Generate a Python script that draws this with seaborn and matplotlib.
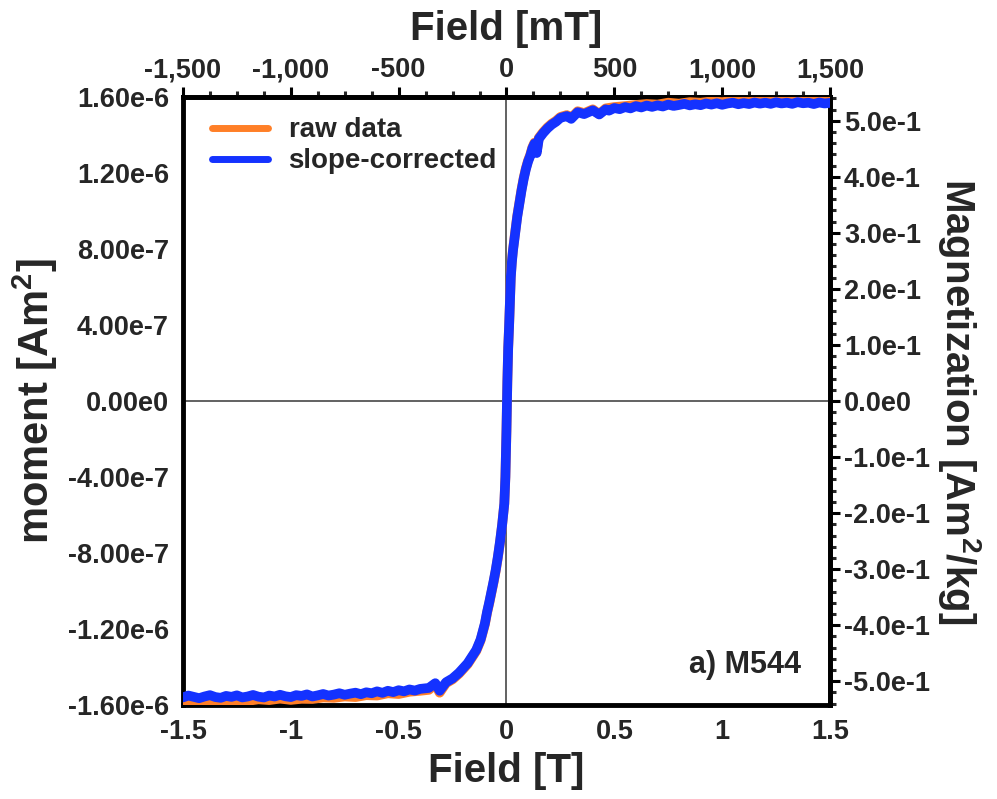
import numpy as np
import pandas as pd
import matplotlib
matplotlib.use("Agg")
import matplotlib.pyplot as plt
import seaborn as sns
from matplotlib.ticker import MultipleLocator, FixedLocator, FixedFormatter

# Slope-corrected branch: applied field (T) and moment (units of 1e-7 Am^2)
corrected_field_T = [
    -1.500, -1.475, -1.450, -1.425, -1.400, -1.375, -1.350, -1.325, -1.300, -1.275,
    -1.250, -1.225, -1.200, -1.175, -1.150, -1.125, -1.100, -1.075, -1.050, -1.025,
    -1.000, -0.975, -0.950, -0.925, -0.900, -0.875, -0.850, -0.825, -0.800, -0.775,
    -0.750, -0.725, -0.700, -0.675, -0.650, -0.625, -0.600, -0.575, -0.550, -0.525,
    -0.500, -0.475, -0.450, -0.425, -0.400,
    -0.36, -0.33, -0.31, -0.28, -0.25, -0.22, -0.20, -0.18, -0.16, -0.14,
    -0.12, -0.10, -0.09, -0.08, -0.07, -0.06, -0.05, -0.04, -0.03, -0.02,
    -0.01, -0.005, 0.0, 0.004, 0.008, 0.012, 0.016, 0.02, 0.025, 0.03,
    0.04, 0.05, 0.06, 0.07, 0.08, 0.09, 0.10, 0.11, 0.12, 0.13,
    0.14, 0.15, 0.17, 0.19, 0.21, 0.23, 0.25, 0.28, 0.30, 0.33,
    0.36, 0.40, 0.43, 0.46,
    0.475, 0.500, 0.525, 0.550, 0.575, 0.600, 0.625, 0.650, 0.675, 0.700,
    0.725, 0.750, 0.775, 0.800, 0.825, 0.850, 0.875, 0.900, 0.925, 0.950,
    0.975, 1.000, 1.025, 1.050, 1.075, 1.100, 1.125, 1.150, 1.175, 1.200,
    1.225, 1.250, 1.275, 1.300, 1.325, 1.350, 1.375, 1.400, 1.425, 1.450,
    1.475, 1.500,
]
corrected_moment_e7 = [
    -15.60, -15.50, -15.57, -15.64, -15.55, -15.48, -15.58, -15.62, -15.52, -15.57,
    -15.49, -15.60, -15.55, -15.47, -15.56, -15.60, -15.50, -15.55, -15.46, -15.54,
    -15.58, -15.48, -15.52, -15.44, -15.55, -15.49, -15.42, -15.50, -15.45, -15.38,
    -15.46, -15.40, -15.35, -15.43, -15.33, -15.38, -15.28, -15.36, -15.25, -15.32,
    -15.22, -15.28, -15.18, -15.24, -15.15,
    -15.10, -14.85, -15.25, -14.80, -14.60, -14.30, -14.05, -13.80, -13.45, -13.10,
    -12.55, -11.70, -11.10, -10.60, -10.05, -9.50, -8.90, -8.20, -7.40, -6.50,
    -5.40, -4.00, -1.50, 1.00, 2.80, 3.90, 5.20, 6.50, 7.30, 7.90,
    8.80, 9.70, 10.40, 11.10, 11.70, 12.20, 12.60, 12.90, 13.30, 13.55,
    13.05, 13.80, 14.10, 14.35, 14.55, 14.70, 14.90, 15.00, 14.85, 15.20,
    15.10, 15.30, 15.08, 15.35,
    15.28, 15.42, 15.36, 15.47, 15.40, 15.52, 15.45, 15.55, 15.48, 15.56,
    15.50, 15.60, 15.53, 15.58, 15.64, 15.56, 15.62, 15.57, 15.66, 15.60,
    15.67, 15.59, 15.66, 15.70, 15.62, 15.68, 15.63, 15.71, 15.65, 15.70,
    15.64, 15.72, 15.66, 15.70, 15.64, 15.73, 15.67, 15.70, 15.63, 15.71,
    15.66, 15.69,
]

# Raw branch before paramagnetic slope removal: field (T), moment (1e-7 Am^2)
raw_field_T = [
    -1.50, -1.45, -1.40, -1.35, -1.30, -1.25, -1.20, -1.15, -1.10, -1.05,
    -1.00, -0.95, -0.90, -0.85, -0.80, -0.75, -0.70, -0.65, -0.60, -0.55,
    -0.50, -0.45, -0.40, -0.36, -0.33, -0.31, -0.28, -0.25, -0.22, -0.20,
    -0.18, -0.16, -0.14, -0.12, -0.10, -0.09, -0.08, -0.07, -0.06, -0.05,
    -0.04, -0.03, -0.02, -0.01, -0.005, 0.0, 0.004, 0.008, 0.012, 0.016,
    0.02, 0.025, 0.03, 0.04, 0.05, 0.06, 0.07, 0.08, 0.09, 0.10,
    0.11, 0.12, 0.13, 0.14, 0.15, 0.17, 0.19, 0.21, 0.23, 0.25,
    0.28, 0.30, 0.33, 0.36, 0.40, 0.43, 0.46, 0.50, 0.55, 0.60,
    0.65, 0.70, 0.75, 0.80, 0.85, 0.90, 0.95, 1.00, 1.05, 1.10,
    1.15, 1.20, 1.25, 1.30, 1.35, 1.40, 1.45, 1.50,
]
raw_moment_e7 = [
    -15.82, -15.80, -15.83, -15.75, -15.80, -15.74, -15.78, -15.70, -15.74, -15.66,
    -15.73, -15.67, -15.68, -15.60, -15.62, -15.55, -15.58, -15.48, -15.50, -15.38,
    -15.42, -15.30, -15.25, -15.20, -14.90, -15.35, -14.85, -14.65, -14.35, -14.10,
    -13.85, -13.50, -13.15, -12.60, -11.75, -11.15, -10.65, -10.10, -9.55, -8.95,
    -8.25, -7.45, -6.50, -5.40, -4.00, -1.50, 1.00, 2.80, 3.90, 5.20,
    6.55, 7.35, 7.95, 8.85, 9.75, 10.45, 11.15, 11.75, 12.25, 12.65,
    12.95, 13.35, 13.60, 13.10, 13.85, 14.15, 14.40, 14.60, 14.75, 14.95,
    15.05, 14.90, 15.25, 15.15, 15.35, 15.10, 15.40, 15.47, 15.52, 15.58,
    15.63, 15.60, 15.70, 15.65, 15.73, 15.70, 15.77, 15.73, 15.80, 15.76,
    15.84, 15.80, 15.85, 15.82, 15.88, 15.82, 15.87, 15.86,
]

sample_mass_kg = 2.95e-6

moment_ticks = [-1.6e-6, -1.2e-6, -8e-7, -4e-7, 0.0, 4e-7, 8e-7, 1.2e-6, 1.6e-6]
moment_tick_labels = ["-1.60e-6", "-1.20e-6", "-8.00e-7", "-4.00e-7", "0.00e0",
                      "4.00e-7", "8.00e-7", "1.20e-6", "1.60e-6"]
magn_ticks = [-0.5, -0.4, -0.3, -0.2, -0.1, 0.0, 0.1, 0.2, 0.3, 0.4, 0.5]
magn_tick_labels = ["-5.0e-1", "-4.0e-1", "-3.0e-1", "-2.0e-1", "-1.0e-1", "0.0e0",
                    "1.0e-1", "2.0e-1", "3.0e-1", "4.0e-1", "5.0e-1"]
field_ticks = [-1.5, -1.0, -0.5, 0.0, 0.5, 1.0, 1.5]
field_tick_labels = ["-1.5", "-1", "-0.5", "0", "0.5", "1", "1.5"]
field_mT_ticks = [-1500, -1000, -500, 0, 500, 1000, 1500]
field_mT_tick_labels = ["-1,500", "-1,000", "-500", "0", "500", "1,000", "1,500"]

sns.set_style("white")
plt.rcParams["font.family"] = ["Liberation Sans", "DejaVu Sans"]
plt.rcParams["font.weight"] = "bold"
plt.rcParams["mathtext.fontset"] = "custom"
plt.rcParams["mathtext.rm"] = "Liberation Sans:bold"
plt.rcParams["mathtext.bf"] = "Liberation Sans:bold"

df = pd.concat([
    pd.DataFrame({"field": raw_field_T, "moment": np.array(raw_moment_e7) * 1e-7,
                  "series": "raw data"}),
    pd.DataFrame({"field": corrected_field_T,
                  "moment": np.array(corrected_moment_e7) * 1e-7,
                  "series": "slope-corrected"}),
], ignore_index=True)

fig = plt.figure(figsize=(9.97, 7.99), dpi=100)
ax = fig.add_axes([0.1835, 0.1176, 0.649, 0.761])

ax.axhline(0, color="#555555", lw=1.3, zorder=1)
ax.axvline(0, color="#555555", lw=1.3, zorder=1)

sns.lineplot(data=df, x="field", y="moment", hue="series",
             palette={"raw data": "#ff7f27", "slope-corrected": "#1432ff"},
             estimator=None, sort=False, linewidth=7, ax=ax, zorder=3)

ax.set_xlim(-1.5, 1.5)
ax.set_ylim(-1.6e-6, 1.6e-6)

ax.xaxis.set_major_locator(FixedLocator(field_ticks))
ax.xaxis.set_major_formatter(FixedFormatter(field_tick_labels))
ax.xaxis.set_minor_locator(MultipleLocator(0.125))
ax.yaxis.set_major_locator(FixedLocator(moment_ticks))
ax.yaxis.set_major_formatter(FixedFormatter(moment_tick_labels))
ax.yaxis.set_minor_locator(MultipleLocator(1e-7))

tick_kw = dict(direction="out", labelsize=19.5, width=2.2, color="black")
ax.tick_params(which="major", length=7, pad=3, **tick_kw)
ax.tick_params(which="minor", length=4, width=2.2, direction="out")

ax.set_xlabel("Field [T]", fontsize=29, fontweight="bold", labelpad=5)
ax.set_ylabel("moment [Am$^{2}$]", fontsize=30, fontweight="bold", labelpad=6)

for sp in ax.spines.values():
    sp.set_linewidth(3.5)
    sp.set_color("black")

top = ax.secondary_xaxis("top", functions=(lambda x: x * 1000, lambda x: x / 1000))
top.xaxis.set_major_locator(FixedLocator(field_mT_ticks))
top.xaxis.set_major_formatter(FixedFormatter(field_mT_tick_labels))
top.xaxis.set_minor_locator(MultipleLocator(125))
top.tick_params(which="major", length=7, pad=3, **tick_kw)
top.tick_params(which="minor", length=4, width=2.2, direction="out")
top.set_xlabel("Field [mT]", fontsize=29, fontweight="bold", labelpad=12)
top.spines["top"].set_linewidth(3.5)

right = ax.secondary_yaxis("right", functions=(lambda m: m / sample_mass_kg,
                                               lambda s: s * sample_mass_kg))
right.yaxis.set_major_locator(FixedLocator(magn_ticks))
right.yaxis.set_major_formatter(FixedFormatter(magn_tick_labels))
right.yaxis.set_minor_locator(MultipleLocator(0.02))
right.tick_params(which="major", length=7, pad=3, **tick_kw)
right.tick_params(which="minor", length=4, width=2.2, direction="out")
right.set_ylabel("Magnetization [Am$^{2}$/kg]", fontsize=29, fontweight="bold",
                 rotation=270, labelpad=38)
right.spines["right"].set_linewidth(3.5)

for t in ax.get_xticklabels() + ax.get_yticklabels() + top.get_xticklabels() + right.get_yticklabels():
    t.set_fontweight("bold")

leg = ax.legend(loc="upper left", bbox_to_anchor=(0.028, 0.985), frameon=False,
                fontsize=20, handlelength=2.0, handletextpad=0.75,
                labelspacing=0.18, borderaxespad=0)
for line in leg.get_lines():
    line.set_linewidth(5)
for t in leg.get_texts():
    t.set_fontweight("bold")

ax.text(0.955, 0.066, "a) M544", transform=ax.transAxes, ha="right", va="center",
        fontsize=22, fontweight="bold")

fig.savefig("out.png", dpi=100)
